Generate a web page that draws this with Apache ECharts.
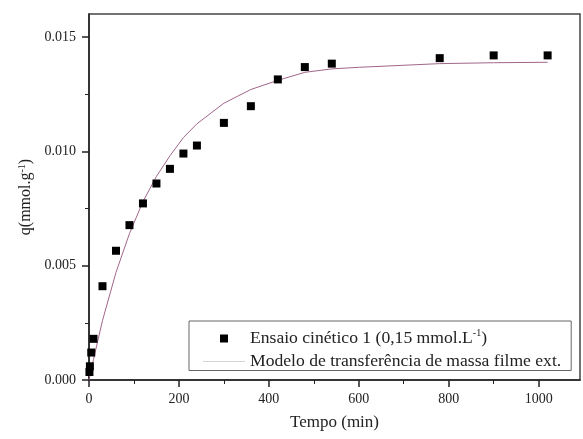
<!DOCTYPE html>
<html>
<head>
<meta charset="utf-8">
<script src="https://cdn.jsdelivr.net/npm/echarts@6/dist/echarts.min.js"></script>
<style>html,body{margin:0;padding:0;background:#fff;}#c{width:583px;height:439px;}</style>
</head>
<body>
<div id="c"></div>
<script>
// Experimental data: Ensaio cinético 1
var expTime = [1, 2, 5, 10, 30, 60, 90, 120, 150, 180, 210, 240, 300, 360, 420, 480, 540, 780, 900, 1020];
var expQ = [0.00035, 0.0006, 0.0012, 0.0018, 0.0041, 0.00565, 0.00677, 0.00772, 0.00859, 0.00923, 0.0099, 0.01025, 0.01124, 0.01197, 0.01314, 0.01368, 0.01383, 0.01407, 0.01419, 0.01419];
// Model curve
var modelTime = [0, 1, 2, 5, 10, 30, 60, 90, 120, 150, 180, 210, 240, 300, 360, 420, 480, 540, 600, 780, 900, 1020];
var modelQ = [0, 0.0001, 0.0002, 0.00046, 0.0009, 0.0026, 0.0047, 0.0064, 0.0078, 0.0089, 0.0098, 0.0106, 0.0112, 0.0121, 0.0127, 0.0131, 0.01345, 0.0136, 0.01367, 0.01383, 0.01387, 0.01389];
// Ticks
var xMajor = [0, 200, 400, 600, 800, 1000];
var xMinor = [100, 300, 500, 700, 900];
var yMajor = [0, 0.005, 0.010, 0.015];
var yMinor = [0.0025, 0.0075, 0.0125];
var xMax = 1092, yMax = 0.016;

var expName = 'Ensaio cinético 1 (0,15 mmol.L-1)';
var modelName = 'Modelo de transferência de massa filme ext.';

var FONT = 'Liberation Serif';
var chart = echarts.init(document.getElementById('c'), null, {renderer: 'canvas'});
var gridPos = {left: 89, top: 14, right: 3, bottom: 59};

function pairs(a, b) { return a.map(function (v, i) { return [v, b[i]]; }); }

chart.setOption({
  backgroundColor: '#fff',
  animation: false,
  textStyle: {fontFamily: FONT},
  grid: [
    Object.assign({show: true, borderColor: '#444', borderWidth: 1.5, backgroundColor: 'transparent', containLabel: false}, gridPos),
    Object.assign({show: false}, gridPos)
  ],
  legend: {
    left: 189, top: 321,
    orient: 'vertical',
    itemWidth: 42, itemHeight: 8, itemGap: 5,
    padding: [7, 10, 0, 14],
    borderColor: '#666', borderWidth: 1,
    backgroundColor: '#fff',
    selectedMode: false,
    data: [
      {name: expName, icon: 'path://M0,0H10V10H0Z', itemStyle: {color: '#000', opacity: 1}},
      {name: modelName, icon: 'path://M0,0H42V1H0Z', itemStyle: {color: '#d4d4d4', opacity: 1}}
    ],
    formatter: function (n) {
      if (n === expName) return '{a|Ensaio cinético 1 (0,15 mmol.L}{s|-1}{a|)}';
      return '{a|' + n + '}';
    },
    textStyle: {
      fontFamily: FONT, color: '#222',
      rich: {
        a: {fontFamily: FONT, fontSize: 17.6, lineHeight: 21, color: '#222'},
        s: {fontFamily: FONT, fontSize: 10, lineHeight: 21, verticalAlign: 'top', color: '#222'}
      }
    }
  },
  xAxis: [
    {
      type: 'value', gridIndex: 0, min: 0, max: xMax,
      name: 'Tempo (min)', nameLocation: 'middle', nameGap: 34,
      nameTextStyle: {fontFamily: FONT, fontSize: 17, color: '#222'},
      axisLine: {show: true, onZero: false, lineStyle: {color: '#222', width: 1.5}},
      axisTick: {show: true, inside: false, length: 7, customValues: xMajor, lineStyle: {color: '#222', width: 1.5}},
      axisLabel: {show: true, margin: 12, customValues: xMajor, fontFamily: FONT, fontSize: 14, color: '#222',
        formatter: function (v) { return String(v); }},
      splitLine: {show: false}
    },
    {
      type: 'value', gridIndex: 1, min: 0, max: xMax,
      axisLine: {show: false},
      axisTick: {show: true, inside: false, length: 4, customValues: xMinor, lineStyle: {color: '#222', width: 1}},
      axisLabel: {show: false},
      splitLine: {show: false}
    }
  ],
  yAxis: [
    {
      type: 'value', gridIndex: 0, min: 0, max: yMax,
      name: 'q(mmol.g{s|-1})', nameLocation: 'middle', nameGap: 48,
      nameTextStyle: {fontFamily: FONT, fontSize: 16, color: '#222',
        rich: {s: {fontFamily: FONT, fontSize: 10, verticalAlign: 'top', color: '#222'}}},
      axisLine: {show: true, onZero: false, lineStyle: {color: '#222', width: 1.5}},
      axisTick: {show: true, inside: false, length: 7, customValues: yMajor, lineStyle: {color: '#222', width: 1.5}},
      axisLabel: {show: true, margin: 13, customValues: yMajor, fontFamily: FONT, fontSize: 14, color: '#222',
        formatter: function (v) { return v.toFixed(3); }},
      splitLine: {show: false}
    },
    {
      type: 'value', gridIndex: 1, min: 0, max: yMax,
      axisLine: {show: false},
      axisTick: {show: true, inside: false, length: 4, customValues: yMinor, lineStyle: {color: '#222', width: 1}},
      axisLabel: {show: false},
      splitLine: {show: false}
    }
  ],
  series: [
    {
      name: expName, type: 'scatter', xAxisIndex: 0, yAxisIndex: 0,
      symbol: 'rect', symbolSize: 8,
      itemStyle: {color: '#000', opacity: 1},
      data: pairs(expTime, expQ), z: 3
    },
    {
      name: modelName, type: 'line', xAxisIndex: 0, yAxisIndex: 0,
      showSymbol: false, symbol: 'none', smooth: false,
      itemStyle: {color: '#a0668a'},
      lineStyle: {color: '#a0668a', width: 1},
      data: pairs(modelTime, modelQ), z: 2
    }
  ]
});
</script>
</body>
</html>
